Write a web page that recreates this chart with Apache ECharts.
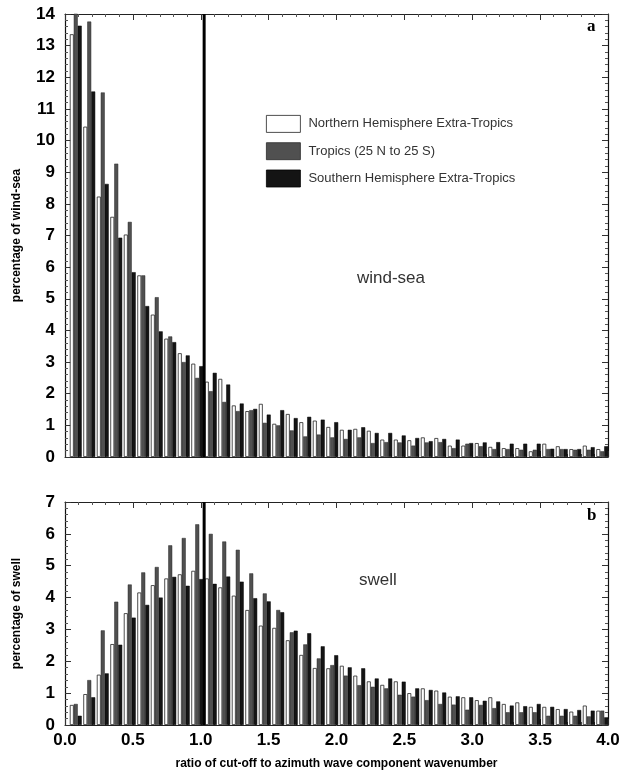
<!DOCTYPE html>
<html>
<head>
<meta charset="utf-8">
<script src="https://cdn.jsdelivr.net/npm/echarts@6/dist/echarts.min.js"></script>
<style>
html,body{margin:0;padding:0;background:#fff;}
#chart{width:626px;height:774px;}
</style>
</head>
<body>
<div id="chart"></div>
<script>
// bin centres of the ratio (0.1 wide bins, 0.0 to 4.0)
const binCentres = [0.05,0.15,0.25,0.35,0.45,0.55,0.65,0.75,0.85,0.95,
  1.05,1.15,1.25,1.35,1.45,1.55,1.65,1.75,1.85,1.95,
  2.05,2.15,2.25,2.35,2.45,2.55,2.65,2.75,2.85,2.95,
  3.05,3.15,3.25,3.35,3.45,3.55,3.65,3.75,3.85,3.95];

const seriesNames = ['Northern Hemisphere Extra-Tropics','Tropics (25 N to 25 S)','Southern Hemisphere Extra-Tropics'];

// panel a: percentage of wind-sea
const windSeaNH = [13.36,10.44,8.23,7.59,7.03,5.74,4.5,3.74,3.28,2.95,
  2.38,2.47,1.63,1.45,1.68,1.05,1.36,1.1,1.15,0.95,
  0.86,0.89,0.83,0.55,0.55,0.53,0.62,0.6,0.36,0.36,
  0.44,0.32,0.28,0.28,0.18,0.42,0.34,0.25,0.36,0.25];
const windSeaTR = [14.4,13.76,11.52,9.27,7.43,5.74,5.05,3.81,3.0,2.5,
  2.08,1.74,1.45,1.48,1.08,1.0,0.84,0.65,0.71,0.62,
  0.57,0.62,0.44,0.47,0.46,0.36,0.46,0.47,0.28,0.42,
  0.34,0.25,0.25,0.23,0.23,0.25,0.25,0.23,0.23,0.18];
const windSeaSH = [13.63,11.55,8.63,6.93,5.84,4.77,3.97,3.63,3.21,2.87,
  2.66,2.29,1.69,1.52,1.34,1.48,1.23,1.27,1.18,1.1,
  0.86,0.94,0.76,0.76,0.68,0.6,0.5,0.57,0.55,0.44,
  0.46,0.47,0.42,0.42,0.42,0.26,0.25,0.25,0.31,0.34];

// panel b: percentage of swell
const swellNH = [0.63,0.97,1.58,2.54,3.51,4.16,4.39,4.6,4.73,4.84,
  4.6,4.32,4.06,3.61,3.12,3.05,2.66,2.2,1.79,1.78,
  1.86,1.55,1.37,1.26,1.37,1.0,1.15,1.08,0.89,0.87,
  0.78,0.87,0.66,0.71,0.57,0.57,0.5,0.42,0.61,0.45];
const swellTR = [0.66,1.41,2.97,3.87,4.41,4.79,4.96,5.64,5.87,6.3,
  6.0,5.76,5.5,4.76,4.13,3.61,2.91,2.53,2.09,1.88,
  1.55,1.25,1.2,1.15,0.95,0.89,0.78,0.66,0.64,0.48,
  0.63,0.53,0.4,0.4,0.4,0.29,0.29,0.29,0.27,0.45];
const swellSH = [0.29,0.87,1.62,2.52,3.37,3.77,4.0,4.65,4.37,4.58,
  4.43,4.66,4.5,3.98,3.88,3.54,2.96,2.88,2.47,2.19,
  1.81,1.78,1.46,1.46,1.36,1.15,1.1,1.02,0.9,0.87,
  0.76,0.74,0.61,0.59,0.66,0.57,0.5,0.47,0.45,0.24];

// axis ranges and ticks
const xRange = [0, 4];
const xTickStep = 0.5;
const windSeaRange = [0, 14];
const swellRange = [0, 7];
const yTickStep = 1;
// thick vertical reference line position (ratio)
const cutoffRatio = 1.025;

const chart = echarts.init(document.getElementById('chart'));

const font = '"Liberation Sans", Arial, Helvetica, sans-serif';
const colors = ['#ffffff', '#505050', '#141414'];
const borders = ['#222', '#2a2a2a', '#000'];

const grids = [
  {left: 65, right: 18, top: 14, height: 443},   // 0 frame a
  {left: 65, right: 18, top: 502, height: 223},  // 1 frame b
  {left: 69, right: 17, top: 14, height: 443},   // 2 bars a (drawn slightly offset as in the original)
  {left: 69, right: 17, top: 502, height: 223}   // 3 bars b
];

function catAxis(gi) {
  return {type: 'category', gridIndex: gi, data: binCentres, show: false, boundaryGap: true};
}
function valX(gi, pos, labels) {
  return {
    type: 'value', gridIndex: gi, position: pos, min: xRange[0], max: xRange[1], interval: xTickStep,
    axisLine: {show: true, onZero: false, lineStyle: {color: '#222', width: 1}},
    axisTick: {show: true, inside: true, length: 6, lineStyle: {color: '#333'}},
    minorTick: {show: true, splitNumber: 5, length: 3, lineStyle: {color: '#555'}},
    splitLine: {show: false},
    axisLabel: labels ? {show: true, fontFamily: font, fontWeight: 'bold', fontSize: 17, color: '#000', margin: 7,
      formatter: v => v.toFixed(1)} : {show: false},
    name: labels ? 'ratio of cut-off to azimuth wave component wavenumber' : '',
    nameLocation: 'middle', nameGap: 33,
    nameTextStyle: {fontFamily: font, fontWeight: 'bold', fontSize: 12, color: '#000'}
  };
}
function valY(gi, pos, range, labels, name) {
  return {
    type: 'value', gridIndex: gi, position: pos, min: range[0], max: range[1], interval: yTickStep,
    axisLine: {show: true, onZero: false, lineStyle: {color: '#111', width: 1.2}},
    axisTick: {show: true, inside: true, length: 6, lineStyle: {color: '#333'}},
    minorTick: {show: true, splitNumber: 5, length: 3, lineStyle: {color: '#555'}},
    splitLine: {show: false},
    axisLabel: labels ? {show: true, fontFamily: font, fontWeight: 'bold', fontSize: 17, color: '#000', margin: 10} : {show: false},
    name: name || '', nameLocation: 'middle', nameGap: 42, nameRotate: 90,
    nameTextStyle: {fontFamily: font, fontWeight: 'bold', fontSize: 12, color: '#000'}
  };
}
function hiddenY(gi, range) {
  return {type: 'value', gridIndex: gi, min: range[0], max: range[1], show: false, splitLine: {show: false}};
}

function bars(name, data, idx, xi, yi) {
  return {
    name: name, type: 'bar', xAxisIndex: xi, yAxisIndex: yi, data: data,
    barGap: '0%', barCategoryGap: '12%', clip: true,
    itemStyle: {color: colors[idx], borderColor: borders[idx], borderWidth: idx === 0 ? 0.8 : 0.5},
    emphasis: {disabled: true}, animation: false
  };
}

function refLine(xi, yi, range) {
  return {
    type: 'line', xAxisIndex: xi, yAxisIndex: yi, symbol: 'none', silent: true, animation: false, z: 5,
    data: [[cutoffRatio, range[0]], [cutoffRatio, range[1]]],
    lineStyle: {color: '#000', width: 3}
  };
}

const option = {
  animation: false,
  backgroundColor: '#fff',
  grid: grids,
  legend: {
    data: seriesNames, orient: 'vertical', left: 266, top: 115, padding: 0,
    itemWidth: 34, itemHeight: 17, itemGap: 9.5,
    icon: 'rect', selectedMode: false,
    textStyle: {fontFamily: font, fontSize: 13, color: '#333', padding: [0, 0, 0, 3]},
    itemStyle: {borderWidth: 0.8}
  },
  xAxis: [
    valX(0, 'bottom', false), // 0
    valX(0, 'top', false),    // 1
    valX(1, 'bottom', true),  // 2
    valX(1, 'top', false),    // 3
    catAxis(2),               // 4
    catAxis(3)                // 5
  ],
  yAxis: [
    valY(0, 'left', windSeaRange, true, 'percentage of wind-sea'), // 0
    valY(0, 'right', windSeaRange, false),                         // 1
    valY(1, 'left', swellRange, true, 'percentage of swell'),      // 2
    valY(1, 'right', swellRange, false),                           // 3
    hiddenY(2, windSeaRange),                                      // 4
    hiddenY(3, swellRange)                                         // 5
  ],
  series: [
    bars(seriesNames[0], windSeaNH, 0, 4, 4),
    bars(seriesNames[1], windSeaTR, 1, 4, 4),
    bars(seriesNames[2], windSeaSH, 2, 4, 4),
    bars(seriesNames[0], swellNH, 0, 5, 5),
    bars(seriesNames[1], swellTR, 1, 5, 5),
    bars(seriesNames[2], swellSH, 2, 5, 5),
    refLine(0, 0, windSeaRange),
    refLine(2, 2, swellRange)
  ],
  graphic: [
    {type: 'text', left: 357, top: 270, style: {text: 'wind-sea', fontFamily: font, fontSize: 17, fill: '#333'}},
    {type: 'text', left: 359, top: 572, style: {text: 'swell', fontFamily: font, fontSize: 17, fill: '#333'}},
    {type: 'text', left: 587, top: 18, style: {text: 'a', fontFamily: '"Liberation Serif", "Times New Roman", serif', fontWeight: 'bold', fontSize: 17, fill: '#000'}},
    {type: 'text', left: 587, top: 507, style: {text: 'b', fontFamily: '"Liberation Serif", "Times New Roman", serif', fontWeight: 'bold', fontSize: 17, fill: '#000'}}
  ]
};

chart.setOption(option);
</script>
</body>
</html>
